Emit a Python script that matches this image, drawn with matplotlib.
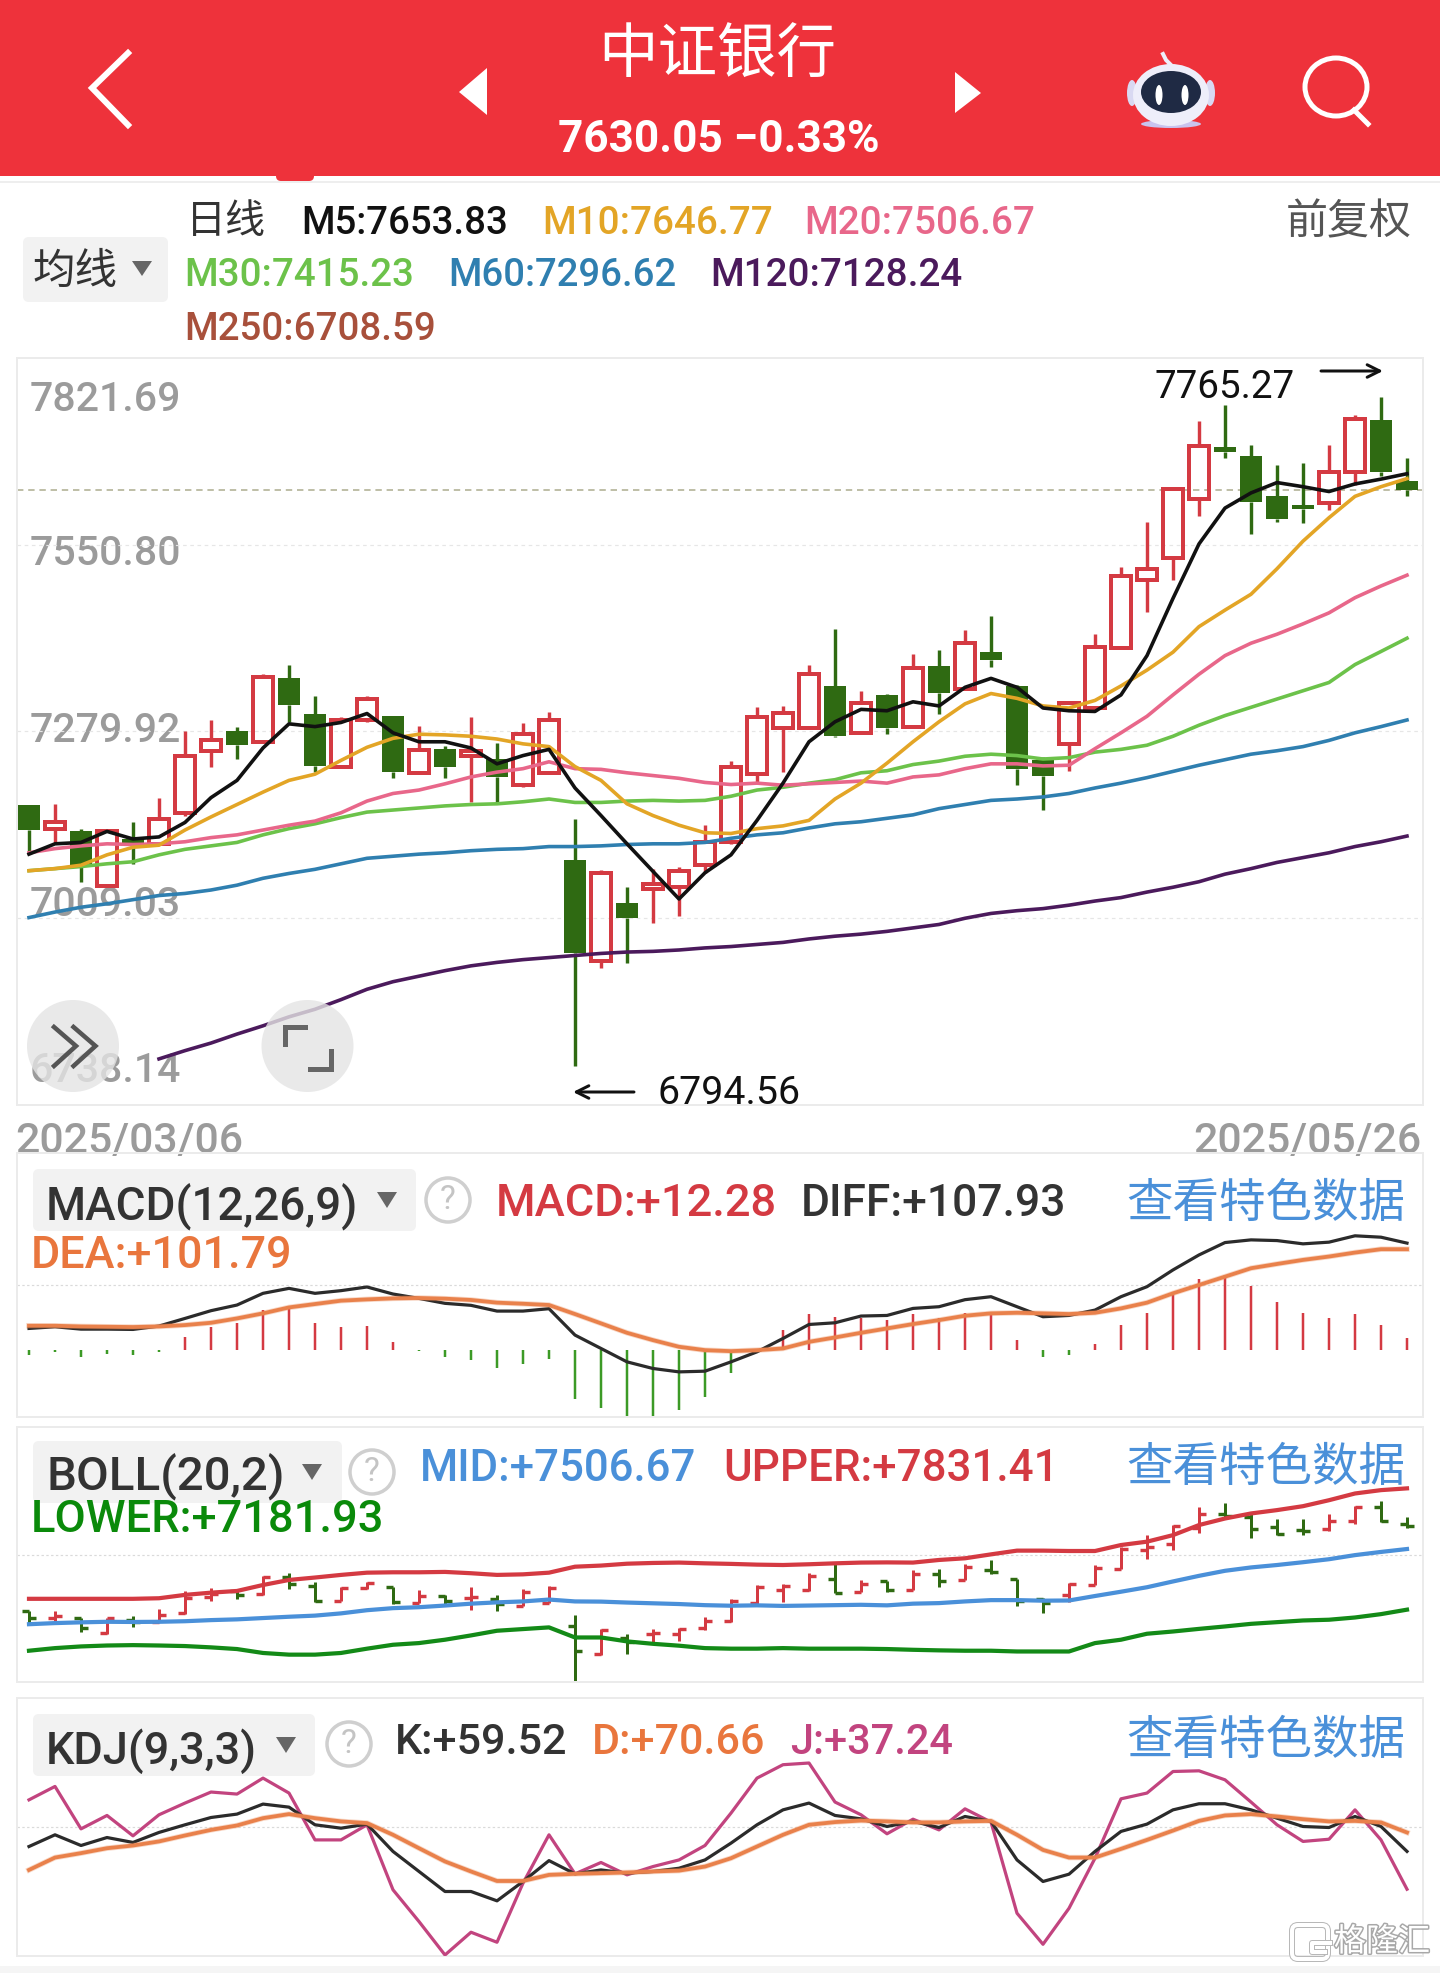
import matplotlib
matplotlib.use("Agg")
import matplotlib.pyplot as plt
import matplotlib.patheffects as pe
import numpy as np
from matplotlib.patches import Rectangle, Circle, Ellipse, FancyBboxPatch, Polygon

W, H = 1440, 1973
FONT = ['Roboto', 'Noto Sans CJK SC', 'DejaVu Sans']
CJK = ['Noto Sans CJK SC', 'DejaVu Sans']
plt.rcParams['font.family'] = FONT

# ---------- data ----------
OPEN = [7173,7139,7136,7056,7124,7117,7162,7252,7281,7265,7357,7306,7229,7296,7303,7220,7255,7244,7240,7202,7220,7094,6947,7031,7051,7054,7086,7119,7218,7285,7285,7346,7278,7333,7286,7375,7341,7395,7346,7239,7262,7314,7401,7499,7532,7617,7692,7679,7622,7609,7612,7656,7732,7643]
HIGH = [7173,7175,7139,7137,7148,7184,7281,7296,7286,7363,7377,7331,7301,7331,7303,7288,7259,7301,7263,7292,7308,7153,7079,7054,7081,7084,7144,7237,7315,7317,7377,7429,7339,7334,7392,7398,7427,7448,7347,7243,7323,7421,7518,7584,7634,7731,7754,7696,7666,7670,7696,7739,7765.27,7676]
LOW = [7102,7117,7062,7054,7088,7115,7158,7229,7240,7263,7294,7221,7227,7294,7213,7218,7213,7178,7175,7200,7218,6794.56,6937,6944,7002,7013,7075,7117,7206,7221,7284,7272,7276,7276,7285,7305,7340,7374,7203,7166,7222,7312,7399,7453,7499,7593,7676,7567,7584,7583,7601,7638,7651,7621]
CLOSE = [7137,7148,7086,7135,7117,7153,7244,7268,7260,7359,7319,7230,7296,7327,7221,7253,7229,7252,7214,7276,7297,6958,7075,7010,7058,7077,7119,7229,7301,7307,7364,7273,7321,7285,7372,7336,7408,7383,7226,7215,7321,7403,7505,7516,7632,7694,7685,7613,7588,7602,7656,7733,7657,7630.05]

M5 = [7102,7117,7119,7135,7124,7127,7148,7184,7209,7256,7291,7287,7293,7306,7278,7265,7265,7256,7233,7245,7254,7198,7158,7117,7077,7037,7075,7101,7151,7205,7265,7294,7312,7310,7323,7317,7344,7357,7344,7314,7310,7309,7333,7390,7473,7552,7604,7626,7641,7635,7628,7639,7646,7653.83]
M10 = [7078,7081,7086,7101,7112,7115,7137,7156,7174,7192,7209,7218,7238,7257,7270,7276,7275,7273,7269,7262,7258,7229,7209,7175,7158,7144,7133,7132,7139,7143,7151,7182,7205,7234,7265,7294,7320,7335,7328,7317,7314,7325,7346,7369,7395,7432,7456,7479,7516,7556,7590,7621,7635,7646.77]
M20 = [7104,7110,7114,7117,7116,7117,7120,7126,7130,7137,7144,7150,7162,7179,7190,7195,7204,7214,7221,7226,7236,7226,7225,7220,7216,7212,7206,7203,7205,7202,7204,7206,7208,7205,7214,7217,7226,7233,7233,7230,7231,7255,7278,7302,7333,7363,7390,7408,7421,7436,7452,7474,7491,7506.67]
M30 = [7078,7081,7084,7088,7091,7101,7109,7114,7119,7130,7139,7146,7155,7163,7166,7169,7172,7174,7175,7178,7182,7177,7177,7179,7180,7179,7180,7186,7195,7199,7205,7210,7220,7223,7232,7237,7244,7247,7245,7240,7242,7250,7254,7260,7273,7289,7303,7315,7327,7339,7351,7377,7396,7415.23]
M60 = [7010,7018,7025,7030,7036,7042,7045,7050,7057,7067,7074,7080,7088,7096,7099,7102,7104,7107,7109,7110,7113,7113,7114,7116,7117,7117,7119,7125,7130,7133,7140,7146,7149,7154,7159,7168,7174,7180,7182,7185,7190,7198,7205,7213,7222,7231,7239,7247,7252,7258,7267,7278,7287,7296.62]
M120 = [np.nan]*5 + [6805,6817,6828,6841,6853,6866,6877,6891,6906,6917,6925,6933,6940,6945,6949,6952,6955,6958,6960,6961,6963,6966,6968,6971,6974,6979,6983,6986,6990,6995,7000,7009,7016,7020,7023,7028,7034,7039,7047,7054,7062,7073,7081,7090,7097,7104,7113,7120,7128.24]

MACD = [-5.1,-2,-6.7,-3.4,-4.7,-1.7,13.5,23.6,27.6,40.4,41.5,27,23.6,24.3,8.4,-1,-6.7,-10.1,-17.5,-13.5,-9.1,-49.5,-58,-67.4,-67.4,-60,-47.2,-22.9,0.5,20.2,36.4,33.7,32,30.3,36,32,37,35.4,10.1,-7.4,-5,6,25.3,37,55.6,71.8,75.8,64.7,48.2,37,32.7,36.4,25.3,12.28]
DIFF = [21.9,23.6,21.2,21.2,20.9,24.3,32,39.8,45.5,57.3,62.3,57.3,60,63.7,56.6,52.2,47.2,45.2,39.4,39.4,41.8,15.2,1.7,-11.8,-18.5,-21.9,-21.2,-11.8,-1.7,11.8,25.9,27.6,34.4,35,42.1,43.8,50.9,53.9,43.8,33.7,35,40.4,53.9,64,80.9,96,108.5,111.2,110.5,107.2,108.9,115.3,113.9,107.93]
DEA = [24.6,24.6,23.9,23.6,23.3,23.9,25.3,27.6,32,37.1,43.1,46.5,49.9,51.2,52.2,52.6,51.9,50.6,47.9,46.8,45.5,36.4,27,17.5,10.1,3.4,0,-1,0,1.7,8.4,12.8,17.5,21.9,26.3,30.3,34.7,37.1,37.7,37.1,36.4,37.7,42.1,47.9,57.3,65.7,74.1,82.6,86.9,91,94.4,98.4,101.8,101.79]

UPPER = [7240,7240,7240,7240,7240,7243,7261,7273,7282,7314,7341,7354,7368,7380,7382,7382,7384,7377,7368,7371,7380,7412,7418,7428,7432,7434,7430,7427,7423,7421,7425,7430,7434,7435,7434,7448,7457,7478,7498,7498,7496,7496,7528,7546,7581,7635,7670,7697,7715,7736,7768,7804,7822,7831.41]
MID = M20
LOWER = [6962,6976,6985,6990,6992,6990,6987,6980,6971,6950,6941,6941,6950,6973,6994,7003,7021,7044,7069,7078,7087,7033,7033,7012,6999,6989,6976,6973,6973,6976,6973,6973,6973,6971,6967,6964,6962,6962,6958,6958,6958,7003,7021,7053,7065,7079,7092,7106,7115,7124,7128,7140,7158,7181.93]

K = [62.4,69.3,63,67.7,64.8,70.7,75.2,79.5,81.5,87.4,85.6,75.2,73.2,75.6,59.5,47.7,35.9,35.9,30.4,41.8,54.1,46.3,48.6,46.7,47.7,49.6,54.5,64.4,75.2,84,88,80.7,78.7,74.2,77.2,73.6,80.1,77.2,54.5,41.8,46.1,59.5,71.3,75.6,84,87.6,87.6,84,79.1,74.2,73.6,80.1,74.2,59.52]
D = [48.6,55.9,58.5,61.4,63,65.4,68.9,72.2,74.8,79.1,81.5,79.1,77.2,76.2,69.3,61.4,53.6,47.7,42.1,42.1,45.7,46.3,46.7,47.1,47.7,48.2,50.6,55.5,62.4,69.3,75.2,76.8,77.7,77.2,76.6,76.6,77.2,77.5,69.3,60.4,55.9,55.9,61,66.3,71.8,77.5,80.7,81.5,80.1,78.5,77.2,77.5,76.6,70.66]
J = [89.9,97.8,72.8,80.7,68.7,81.1,88,94.5,93.3,102.7,93.9,66.3,66.3,75.2,36.9,18.2,-1.5,11.9,6,40.8,69.3,46.3,53,45.7,50.6,54.5,63,82.1,102.7,110.6,111.6,88.6,81.1,69.9,78.5,72.2,84.6,76.8,23.1,4.8,26,55.5,90.5,93.9,106.6,107,101.7,88.6,75.2,65.4,66.7,84,66.3,37.24]

MAIN_TICKS = ['7821.69', '7550.80', '7279.92', '7009.03', '6738.14']
DATES = ['2025/03/06', '2025/05/26']

# ---------- colours ----------
RED = '#D43A42'; GREEN = '#2F6A12'; HEADER = '#EE323B'; BLUE = '#4A90D9'
C5, C10, C20, C30, C60, C120 = '#111111', '#E3A526', '#E8678A', '#6CC24A', '#2F7FB0', '#4B1A5C'
GRID = '#E6E6E6'; FRAME = '#EBEBEB'; GREY = '#9B9B9B'; DARK = '#333333'
ORANGE = '#E9814B'; PINK = '#C2447F'
PT = 0.72  # points per pixel at dpi 100

fig = plt.figure(figsize=(W/100, H/100), dpi=100, facecolor='white')


def overlay(z):
    a = fig.add_axes([0, 0, 1, 1], zorder=z)
    a.set_xlim(0, W); a.set_ylim(H, 0); a.axis('off'); a.patch.set_alpha(0)
    return a


def panel(x0, y0, x1, y1, ylim):
    a = fig.add_axes([x0/W, 1-y1/H, (x1-x0)/W, (y1-y0)/H], zorder=1)
    a.set_xlim((17-29)/26, (1423-29)/26)
    a.set_ylim(*ylim)
    a.patch.set_alpha(0)
    a.set_xticks([]); a.set_yticks([])
    for s in a.spines.values():
        s.set_color(FRAME); s.set_linewidth(2*PT)
    return a


bg = overlay(0)
fg = overlay(2)
rend = fig.canvas.get_renderer()


def fit(a, text, x0, x1, yc, color, family=FONT, weight='medium', zorder=3, dy=4):
    t = a.text(x0-2, yc+dy, text, color=color, family=family, weight=weight,
               fontsize=30, ha='left', va='center', zorder=zorder)
    w = t.get_window_extent(rend).width
    t.set_fontsize(30*(x1-x0)/w)
    return t


# ---------- header ----------
bg.add_patch(Rectangle((0, 0), W, 176, color=HEADER, lw=0))
bg.add_patch(FancyBboxPatch((276, 170), 38, 11, boxstyle='round,pad=0,rounding_size=5', color=HEADER, lw=0))
bg.plot([0, W], [182, 182], color='#EEEEEE', lw=2*PT)
bg.plot([128, 92, 128], [53, 88, 125], color='white', lw=6*PT, solid_joinstyle='miter')
bg.add_patch(Polygon([(487, 68), (459, 92), (487, 115)], color='white', lw=0))
bg.add_patch(Polygon([(955, 72), (981, 93), (955, 113)], color='white', lw=0))
fit(bg, '中证银行', 600, 838, 50, 'white', family=CJK, dy=6)
fit(bg, '7630.05 −0.33%', 560, 881, 137, 'white', weight='bold', dy=3)
# robot
bg.add_patch(Ellipse((1171, 124), 60, 8, color='#C9C3EE', lw=0))
bg.add_patch(Ellipse((1132, 93), 10, 26, color='#D9D9F2', lw=0))
bg.add_patch(Ellipse((1210, 93), 10, 26, color='#D9D9F2', lw=0))
bg.add_patch(Ellipse((1171, 95), 76, 62, color='#EEEEFA', lw=0))
bg.add_patch(Ellipse((1171, 92), 60, 42, color='#1F2A44', lw=0))
bg.add_patch(Ellipse((1159, 95), 7, 20, color='white', lw=0))
bg.add_patch(Ellipse((1185, 95), 7, 20, color='white', lw=0))
bg.plot([1163, 1166, 1172], [54, 60, 66], color='#EEEEFA', lw=4*PT)
# search
bg.add_patch(Ellipse((1336, 87), 62, 58, fill=False, ec='white', lw=5*PT))
bg.plot([1354, 1368], [110, 124], color='white', lw=5*PT)

# ---------- MA legend ----------
bg.add_patch(FancyBboxPatch((23, 237), 145, 65, boxstyle='round,pad=0,rounding_size=6', color='#F2F2F2', lw=0))
fit(bg, '均线', 34, 119, 268, DARK, family=CJK, weight='normal')
bg.add_patch(Polygon([(132, 261), (152, 261), (142, 276)], color='#666666', lw=0))
fit(bg, '日线', 188, 268, 218, DARK, family=CJK, weight='normal')
fit(bg, '前复权', 1288, 1414, 218, '#555555', family=CJK, weight='normal')
fit(bg, 'M5:7653.83', 303, 510, 220, C5)
fit(bg, 'M10:7646.77', 544, 774, 220, C10)
fit(bg, 'M20:7506.67', 806, 1036, 220, C20)
fit(bg, 'M30:7415.23', 186, 415, 272, C30)
fit(bg, 'M60:7296.62', 450, 678, 272, C60)
fit(bg, 'M120:7128.24', 712, 964, 272, C120)
fit(bg, 'M250:6708.59', 186, 437, 325, '#A8503B')

# ---------- main chart ----------
ax = panel(17, 358, 1423, 1105, (6738.14, 7821.69))
idx = np.arange(len(CLOSE))
O, Hi, Lo, C = map(np.array, (OPEN, HIGH, LOW, CLOSE))
up = C >= O
top = np.maximum(O, C); bot = np.minimum(O, C)
for v in (7550.80, 7279.92, 7009.03):
    ax.axhline(v, color=GRID, lw=1.2*PT, ls=(0, (3, 3)), zorder=0)
ax.axhline(CLOSE[-1], color='#B0B093', lw=1.6*PT, ls=(0, (4, 3)), zorder=1)
for i in idx:
    col = RED if up[i] else GREEN
    ax.vlines(i, top[i], Hi[i], color=col, lw=3.4*PT, zorder=2)
    ax.vlines(i, Lo[i], bot[i], color=col, lw=3.4*PT, zorder=2)
ax.bar(idx[~up], (top-bot)[~up], bottom=bot[~up], width=0.83, color=GREEN, lw=0, zorder=2)
ax.bar(idx[up], (top-bot)[up], bottom=bot[up], width=0.78, facecolor='none', edgecolor=RED,
       lw=4*PT, zorder=2)
for ser, col in ((M120, C120), (M60, C60), (M30, C30), (M20, C20), (M10, C10), (M5, C5)):
    ax.plot(idx, ser, color=col, lw=3.6*PT, solid_joinstyle='round', zorder=3)

for lab, y in zip(MAIN_TICKS, (396, 550, 727, 901, 1067)):
    fit(bg, lab, 32, 183, y, GREY)
fit(bg, DATES[0], 17, 245, 1139, GREY, dy=2)
fit(bg, DATES[1], 1195, 1423, 1139, GREY, dy=2)

fit(bg, '7765.27', 1156, 1296, 383, '#111111', weight='normal')
fit(bg, '6794.56', 659, 802, 1089, '#111111', weight='normal')
bg.annotate('', xy=(1383, 371), xytext=(1321, 371),
            arrowprops=dict(arrowstyle='->,head_length=0.9,head_width=0.45', color='#111111', lw=3*PT,
                            shrinkA=0, shrinkB=0))
bg.annotate('', xy=(573, 1092), xytext=(634, 1092),
            arrowprops=dict(arrowstyle='->,head_length=0.9,head_width=0.45', color='#111111', lw=3*PT,
                            shrinkA=0, shrinkB=0))

# floating buttons
for cx in (73, 307.5):
    fg.add_patch(Circle((cx, 1046), 46, color='#E4E4E4', alpha=0.8, lw=0))
for xs in ([54, 76, 54], [73.5, 95.5, 73.5]):
    fg.plot(xs, [1027, 1046, 1066], color='#555555', lw=4.5*PT, solid_joinstyle='miter')
fg.plot([285, 285, 305], [1044, 1027, 1027], color='#666666', lw=5*PT, solid_joinstyle='miter')
fg.plot([331, 331, 310], [1051, 1069, 1069], color='#666666', lw=5*PT, solid_joinstyle='miter')


def selector(x0, y0, x1, y1, label, tx0, tx1, ty, trix, triy, qx, qy):
    bg.add_patch(FancyBboxPatch((x0, y0), x1-x0, y1-y0, boxstyle='round,pad=0,rounding_size=6',
                                color='#F2F2F2', lw=0))
    fit(bg, label, tx0, tx1, ty, DARK)
    bg.add_patch(Polygon([(trix-10, triy-8), (trix+10, triy-8), (trix, triy+8)], color='#666666', lw=0))
    bg.add_patch(Circle((qx, qy), 22, fill=False, ec='#CFCFCF', lw=3.5*PT))
    bg.text(qx, qy, '?', color='#C4C4C4', fontsize=24, ha='center', va='center')


# ---------- MACD ----------
ax_m = panel(17, 1153, 1423, 1417, (-67.4, 198.8))
ax_m.axhline(65.4, color='#DADADA', lw=1.2*PT, ls=(0, (2, 2)), zorder=0)
m = np.array(MACD)
ax_m.vlines(idx[m >= 0], 0, m[m >= 0], color='#D43A42', lw=2.5*PT, zorder=2)
ax_m.vlines(idx[m < 0], 0, m[m < 0], color='#3C9A26', lw=2.5*PT, zorder=2)
ax_m.plot(idx, DIFF, color='#2B2B2B', lw=3.2*PT, zorder=3)
ax_m.plot(idx, DEA, color=ORANGE, lw=5.5*PT, alpha=0.3, zorder=4)
ax_m.plot(idx, DEA, color=ORANGE, lw=3.8*PT, zorder=4)
selector(33, 1169, 416, 1231, 'MACD(12,26,9)', 48, 360, 1202, 387, 1200, 448, 1200)
fit(bg, 'MACD:+12.28', 498, 779, 1200, RED)
fit(bg, 'DIFF:+107.93', 803, 1068, 1200, DARK)
fit(bg, '查看特色数据', 1128, 1407, 1200, BLUE, family=CJK, weight='normal')
fit(bg, 'DEA:+101.79', 33, 294, 1252, '#E9763D')

# ---------- BOLL (open/close ticks on each bar) ----------
ax_b = panel(17, 1427, 1423, 1682, (6794.56, 8160))
ax_b.axhline(7477, color='#DADADA', lw=1.2*PT, ls=(0, (2, 2)), zorder=0)
TICK = 0.27
for i in idx:
    col = '#D43A42' if up[i] else GREEN
    ax_b.vlines(i, Lo[i], Hi[i], color=col, lw=3*PT, zorder=2)
    ax_b.hlines(O[i], i-TICK, i, color=col, lw=3.4*PT, zorder=2)
    ax_b.hlines(C[i], i, i+TICK, color=col, lw=3.4*PT, zorder=2)
ax_b.plot(idx, UPPER, color='#D43A42', lw=4.2*PT, zorder=3)
ax_b.plot(idx, MID, color=BLUE, lw=4.2*PT, zorder=3)
ax_b.plot(idx, LOWER, color='#138A17', lw=4.2*PT, zorder=3)
selector(33, 1441, 342, 1503, 'BOLL(20,2)', 48, 286, 1473, 312, 1472, 372, 1472)
fit(bg, 'MID:+7506.67', 422, 698, 1465, BLUE)
fit(bg, 'UPPER:+7831.41', 725, 1059, 1465, RED)
fit(bg, '查看特色数据', 1128, 1407, 1464, BLUE, family=CJK, weight='normal')
fit(bg, 'LOWER:+7181.93', 33, 386, 1516, '#0A8A0A')

# ---------- KDJ ----------
ax_k = panel(17, 1698, 1423, 1956, (-2.1, 149.9))
ax_k.axhline(73.8, color='#DADADA', lw=1.2*PT, ls=(0, (2, 2)), zorder=0)
ax_k.plot(idx, J, color=PINK, lw=3.2*PT, zorder=3)
ax_k.plot(idx, K, color='#2B2B2B', lw=3.2*PT, zorder=3)
ax_k.plot(idx, D, color=ORANGE, lw=5.5*PT, alpha=0.3, zorder=4)
ax_k.plot(idx, D, color=ORANGE, lw=3.8*PT, zorder=4)
selector(33, 1714, 315, 1776, 'KDJ(9,3,3)', 48, 259, 1747, 286, 1745, 349, 1744)
fit(bg, 'K:+59.52', 397, 569, 1738, DARK)
fit(bg, 'D:+70.66', 594, 767, 1738, '#E9763D')
fit(bg, 'J:+37.24', 792, 955, 1738, PINK)
fit(bg, '查看特色数据', 1128, 1407, 1737, BLUE, family=CJK, weight='normal')

# bottom band and watermark
bg.add_patch(Rectangle((0, 1966), W, 7, color='#F5F5F5', lw=0))
halo = [pe.withStroke(linewidth=6*PT, foreground='#B8B8B8')]
lg = FancyBboxPatch((1292, 1925), 36, 34, boxstyle='round,pad=0,rounding_size=6',
                    fill=False, ec='white', lw=4*PT, path_effects=halo)
fg.add_patch(lg)
fg.plot([1330, 1312, 1312, 1325], [1943, 1943, 1952, 1952], color='white', lw=4*PT, path_effects=halo)
t = fit(fg, '格隆汇', 1336, 1432, 1942, 'white', family=CJK, weight='normal', dy=0)
t.set_path_effects([pe.withStroke(linewidth=3*PT, foreground='#A8A8A8')])

fig.savefig('out.png', dpi=100, facecolor='white')
